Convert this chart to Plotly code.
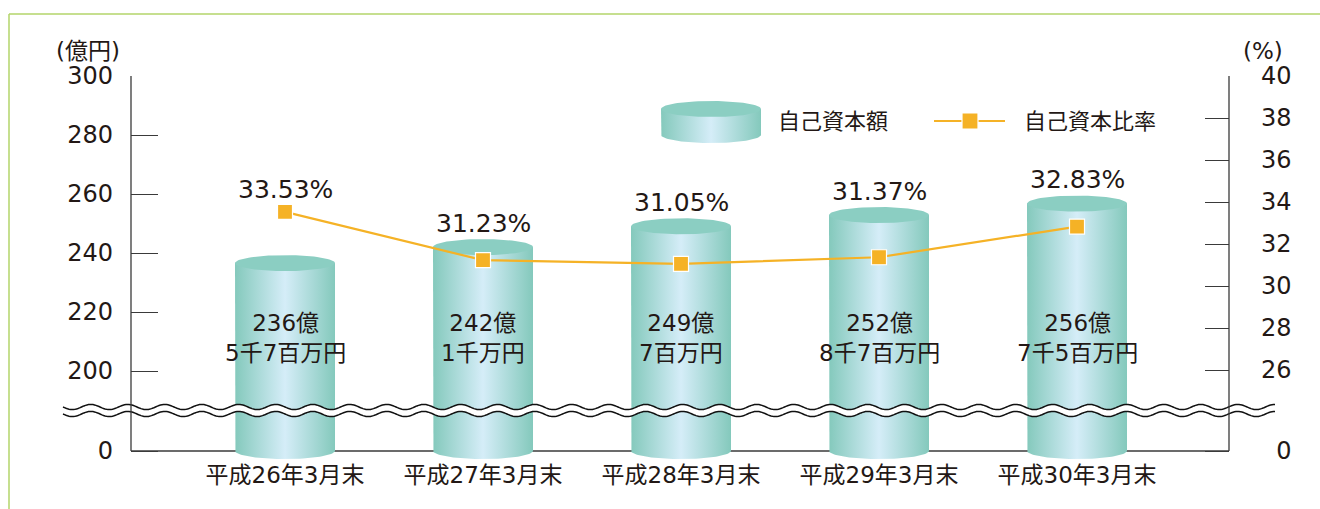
import numpy as np
import plotly.graph_objects as go

# ---------------- data ----------------
categories = ["平成26年3月末", "平成27年3月末", "平成28年3月末", "平成29年3月末", "平成30年3月末"]
capital = [236.57, 242.01, 249.07, 252.87, 256.75]          # 自己資本額 (億円)
capital_labels = ["236億<br>5千7百万円", "242億<br>1千万円", "249億<br>7百万円",
                  "252億<br>8千7百万円", "256億<br>7千5百万円"]
ratio = [33.53, 31.23, 31.05, 31.37, 32.83]                 # 自己資本比率 (%)
ratio_labels = ["33.53%", "31.23%", "31.05%", "31.37%", "32.83%"]
left_ticks = [200, 220, 240, 260, 280, 300]
right_ticks = [26, 28, 30, 32, 34, 36, 38, 40]
legend_names = ["自己資本額", "自己資本比率"]

# ---------------- layout geometry ----------------
W, H = 1320, 509
PL, PR, PT, PB = 131, 1229, 76, 463     # plot area in pixels
BASE_PX = 451                            # pixel row of the "0" baseline
Y1_TOP, K1 = 300, 2.95                   # left axis: top value, px per unit
Y2_TOP, K2 = 40, 21.0                    # right axis: top value, px per unit
X0_PX, DX_PX = 285, 198                  # first category centre, spacing (px)

y1_range = [Y1_TOP - (PB - PT) / K1, Y1_TOP]
y2_range = [Y2_TOP - (PB - PT) / K2, Y2_TOP]
y1_zero = Y1_TOP - (BASE_PX - PT) / K1   # where "0" sits on the broken axis
y2_zero = Y2_TOP - (BASE_PX - PT) / K2
x_range = [(PL - X0_PX) / DX_PX, (PR - X0_PX) / DX_PX]


def px_to_y1(py):
    return Y1_TOP - (py - PT) / K1


def y1_to_px(v):
    return PT + (Y1_TOP - v) * K1


def y2_to_px(v):
    return PT + (Y2_TOP - v) * K2


def px_to_y2(py):
    return Y2_TOP - (py - PT) / K2


def px_to_x(px):
    return (px - X0_PX) / DX_PX


def paper_x(px):
    return (px - PL) / (PR - PL)


def paper_y(py):
    return (PB - py) / (PB - PT)


FONT = "DejaVu Sans, Noto Sans CJK JP, sans-serif"
TXT = "#231815"
HALF_W = 50 / DX_PX          # half cylinder width in x units
RY_PX = 8                    # ellipse radius (px)
RY = RY_PX / K1

BODY_SCALE = [[0, "#84c9bc"], [0.5, "#d5edf8"], [1, "#84c9bc"]]
CAP_COLOR = "#8bcec2"

fig = go.Figure()


def add_cylinder(xc, base, top):
    t = np.linspace(np.pi, 0, 48)
    bx = xc + HALF_W * np.cos(t)
    by = base - RY * np.sin(t)
    body_x = [xc - HALF_W] + list(bx) + [xc + HALF_W, xc - HALF_W]
    body_y = [top] + list(by) + [top, top]
    fig.add_trace(go.Scatter(
        x=body_x, y=body_y, mode="lines", fill="toself",
        fillgradient=dict(type="horizontal", colorscale=BODY_SCALE),
        line=dict(width=0), hoverinfo="skip", showlegend=False))
    s = np.linspace(0, 2 * np.pi, 80)
    fig.add_trace(go.Scatter(
        x=xc + HALF_W * np.cos(s), y=top + RY * np.sin(s), mode="lines",
        fill="toself", fillcolor=CAP_COLOR, line=dict(width=0),
        hoverinfo="skip", showlegend=False))


xs = list(range(len(categories)))
for i, v in enumerate(capital):
    add_cylinder(xs[i], y1_zero, v)

# legend cylinder key
add_cylinder(px_to_x(711), px_to_y1(135), px_to_y1(109))

# ratio line
ORANGE = "#f5b226"
fig.add_trace(go.Scatter(
    x=xs, y=ratio, yaxis="y2", mode="lines+markers",
    line=dict(color=ORANGE, width=2.2),
    marker=dict(symbol="square", size=15, color=ORANGE, line=dict(color="white", width=1.2)),
    hoverinfo="skip", showlegend=False))

# legend line key
fig.add_trace(go.Scatter(
    x=[px_to_x(934), px_to_x(970), px_to_x(1005)],
    y=[px_to_y2(121)] * 3, yaxis="y2", mode="lines",
    line=dict(color=ORANGE, width=2.2), hoverinfo="skip", showlegend=False))
fig.add_trace(go.Scatter(
    x=[px_to_x(970)], y=[px_to_y2(121)], yaxis="y2", mode="markers",
    marker=dict(symbol="square", size=16, color=ORANGE, line=dict(color="white", width=1.2)),
    hoverinfo="skip", showlegend=False))

annotations = []
# labels inside cylinders
for i, lab in enumerate(capital_labels):
    annotations.append(dict(x=xs[i], y=px_to_y1(337.5), xref="x", yref="y", text=lab,
                            showarrow=False, font=dict(family=FONT, size=23, color=TXT),
                            xanchor="center", yanchor="middle", align="center"))
# percentage labels
for i, lab in enumerate(ratio_labels):
    top_edge = y1_to_px(capital[i]) - RY_PX
    mk = y2_to_px(ratio[i])
    py = min(top_edge - 16, mk - 22)
    annotations.append(dict(x=xs[i], y=px_to_y1(py), xref="x", yref="y", text=lab,
                            showarrow=False, font=dict(family=FONT, size=25, color=TXT),
                            xanchor="center", yanchor="middle"))
# legend texts
annotations.append(dict(x=paper_x(776), y=paper_y(121), xref="paper", yref="paper",
                        text=legend_names[0], showarrow=False,
                        font=dict(family=FONT, size=22, color=TXT), xanchor="left", yanchor="middle"))
annotations.append(dict(x=paper_x(1022), y=paper_y(121), xref="paper", yref="paper",
                        text=legend_names[1], showarrow=False,
                        font=dict(family=FONT, size=22, color=TXT), xanchor="left", yanchor="middle"))
# axis unit titles
annotations.append(dict(x=paper_x(88), y=paper_y(51), xref="paper", yref="paper", text="(億円)",
                        showarrow=False, font=dict(family=FONT, size=23, color=TXT),
                        xanchor="center", yanchor="middle"))
annotations.append(dict(x=paper_x(1263), y=paper_y(51), xref="paper", yref="paper", text="(%)",
                        showarrow=False, font=dict(family=FONT, size=23, color=TXT),
                        xanchor="center", yanchor="middle"))

# ---------------- shapes ----------------
shapes = []
AX = "#3a3a3a"
# baseline (below traces)
shapes.append(dict(type="line", xref="paper", yref="paper", x0=0, x1=1,
                   y0=paper_y(BASE_PX), y1=paper_y(BASE_PX), line=dict(color=AX, width=1.3),
                   layer="below"))
# break band
wx = np.arange(63, 1275.1, 1.5)
ph = 2 * np.pi * (wx - 63) / 37.0
up = 407 + 2.6 * np.sin(ph)
lo = 414 + 2.6 * np.sin(ph)


def path_of(xpx, ypx):
    return "M " + " L ".join(f"{paper_x(a):.5f},{paper_y(b):.5f}" for a, b in zip(xpx, ypx))


band = path_of(np.concatenate([wx, wx[::-1]]), np.concatenate([up, lo[::-1]])) + " Z"
shapes.append(dict(type="path", xref="paper", yref="paper", path=band,
                   fillcolor="white", line=dict(width=0), layer="above"))
shapes.append(dict(type="path", xref="paper", yref="paper", path=path_of(wx, up),
                   line=dict(color="#111", width=1.5), layer="above"))
shapes.append(dict(type="path", xref="paper", yref="paper", path=path_of(wx, lo),
                   line=dict(color="#111", width=1.5), layer="above"))
# vertical axis lines
for xp in (0, 1):
    shapes.append(dict(type="line", xref="paper", yref="paper", x0=xp, x1=xp,
                       y0=paper_y(BASE_PX), y1=1, line=dict(color=AX, width=1.3), layer="above"))
# frame (green)
GREEN = "#b3d56a"
shapes.append(dict(type="line", xref="paper", yref="paper", x0=paper_x(9), x1=paper_x(1320),
                   y0=paper_y(14), y1=paper_y(14), line=dict(color=GREEN, width=1.5)))
shapes.append(dict(type="line", xref="paper", yref="paper", x0=paper_x(9), x1=paper_x(9),
                   y0=paper_y(14), y1=paper_y(509), line=dict(color=GREEN, width=1.5)))

fig.update_layout(
    width=W, height=H,
    margin=dict(l=PL, r=W - PR, t=PT, b=H - PB),
    paper_bgcolor="white", plot_bgcolor="white",
    showlegend=False,
    xaxis=dict(range=x_range, tickvals=xs, ticktext=categories, showgrid=False,
               zeroline=False, showline=False, ticks="",
               ticklabelstandoff=-4,
               tickfont=dict(family=FONT, size=23, color=TXT)),
    yaxis=dict(range=y1_range, tickvals=[y1_zero] + left_ticks,
               ticktext=["0"] + [str(v) for v in left_ticks],
               showgrid=False, zeroline=False, showline=False,
               ticks="inside", ticklen=27, tickwidth=1.2, tickcolor=AX,
               ticklabelstandoff=17,
               tickfont=dict(family=FONT, size=24, color=TXT)),
    yaxis2=dict(range=y2_range, overlaying="y", side="right",
                tickvals=[y2_zero] + right_ticks,
                ticktext=["\u20070"] + [str(v) for v in right_ticks],
                showgrid=False, zeroline=False, showline=False,
                ticks="inside", ticklen=24, tickwidth=1.2, tickcolor=AX,
                ticklabelstandoff=31,
                tickfont=dict(family=FONT, size=24, color=TXT)),
    annotations=annotations,
    shapes=shapes,
)

fig.write_html("out.html", config={"displayModeBar": False},
               post_script="document.body.style.margin='0';document.body.style.overflow='hidden';")
